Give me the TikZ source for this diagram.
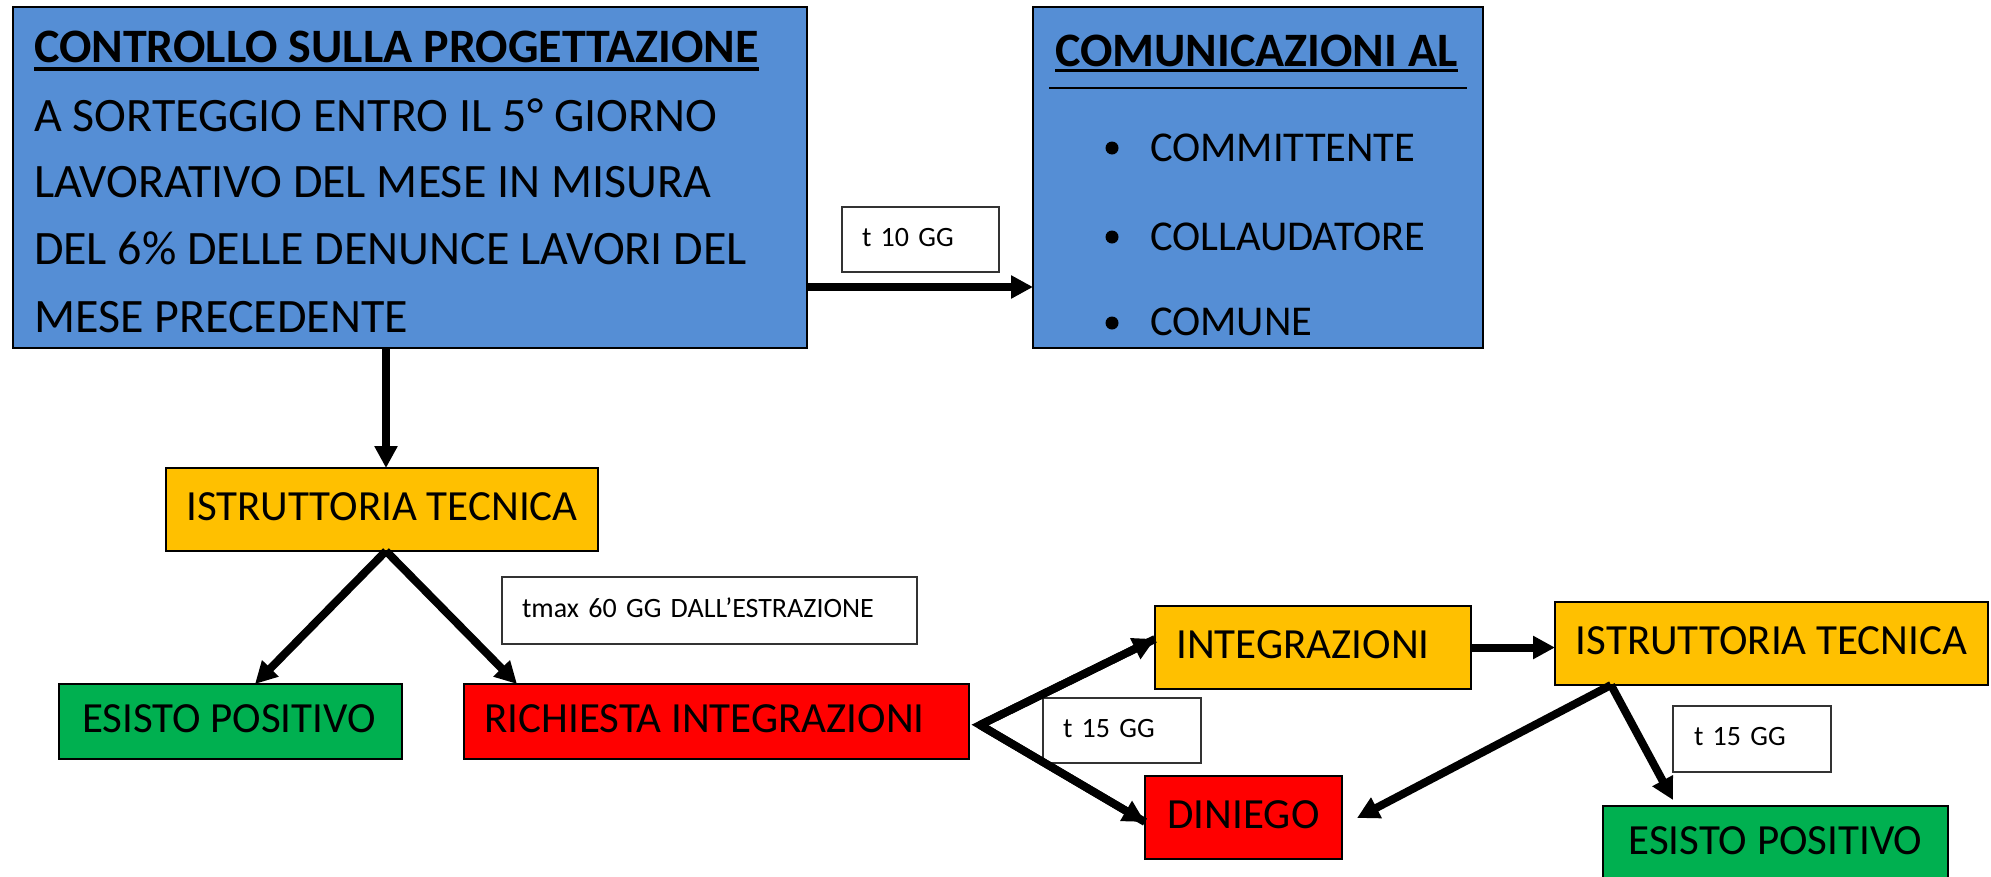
\documentclass[tikz,border=0pt]{standalone}
\usepackage{fontspec}
\setmainfont{Carlito}
\usetikzlibrary{arrows.meta,calc}
\definecolor{cblue}{RGB}{85,142,213}
\definecolor{corange}{RGB}{255,192,0}
\definecolor{cgreen}{RGB}{0,176,80}
\definecolor{cred}{RGB}{255,0,0}
\begin{document}
\begin{tikzpicture}[x=1pt,y=-1pt,
 every node/.style={inner sep=0pt, outer sep=0pt},
 box/.style={draw=black, line width=2pt, anchor=north west, text height=27pt, text depth=6pt, font=\fontsize{43}{51}\selectfont},
 bigbox/.style={draw=black, line width=2.5pt, fill=cblue, anchor=north west},
 tag/.style={draw=black!80, line width=1.5pt, fill=white, anchor=north west, align=left, inner xsep=20pt, text height=18pt, text depth=5pt, font=\fontsize{28}{33}\selectfont},
 txtline/.style={anchor=base west, font=\fontsize{48}{57}\selectfont},
 item/.style={anchor=base west, font=\fontsize{42.5}{50}\selectfont},
 dot/.style={circle, fill=black, minimum size=13pt},
 arr/.style={line width=8pt, -{Triangle[length=22pt,width=22pt]}},
 ul/.style={line width=3.5pt}]
\useasboundingbox (0,0) rectangle (1991,876);
\clip (0,0) rectangle (1991,876);

% top blue boxes
\node[bigbox, minimum width=794pt, minimum height=341pt] (ctrl) at (13,7) {};
\node[bigbox, minimum width=450pt, minimum height=341pt] (comm) at (1033,7) {};

\node[txtline, font=\fontsize{48}{57}\selectfont\bfseries] (ctrlT) at (34,62) {CONTROLLO SULLA PROGETTAZIONE};
\draw[ul] ($(ctrlT.base west)+(0,7)$) -- ($(ctrlT.base east)+(0,7)$);
\node[txtline] (ctrlA) at (34,131) {A SORTEGGIO ENTRO IL 5° GIORNO};
\node[txtline] (ctrlB) at (34,197) {LAVORATIVO DEL MESE IN MISURA};
\node[txtline] (ctrlC) at (34,264) {DEL 6\% DELLE DENUNCE LAVORI DEL};
\node[txtline] (ctrlD) at (34,332) {MESE PRECEDENTE};

\node[txtline, font=\fontsize{48}{56}\selectfont\bfseries] (commT) at (1055,66) {COMUNICAZIONI AL};
\draw[ul] ($(commT.base west)+(0,4.5)$) -- ($(commT.base east)+(0,4.5)$);
\draw[line width=2pt] ($(comm.north west)+(16,81)$) -- ($(comm.north east)+(-16,81)$);
\node[dot] (d1) at (1112,148) {};
\node[dot] (d2) at (1112,237) {};
\node[dot] (d3) at (1112,323) {};
\node[item] (i1) at (1150,161) {COMMITTENTE};
\node[item] (i2) at (1150,250) {COLLAUDATORE};
\node[item] (i3) at (1150,335) {COMUNE};

% tags
\node[tag, text width=117pt, minimum height=65pt] (t10) at (842,207) {t 10 GG};
\node[tag, text width=375pt, minimum height=67pt] (tmax) at (502,577) {tmax 60 GG DALL’ESTRAZIONE};
\node[tag, text width=118pt, minimum height=65pt] (t15a) at (1043,698) {t 15 GG};
\node[tag, text width=116pt, inner xsep=21pt, minimum height=66pt] (t15b) at (1673,706) {t 15 GG};

% process boxes
\node[box, fill=corange, minimum width=432pt, minimum height=83pt] (istr1) at (166,468) {ISTRUTTORIA TECNICA};
\node[box, fill=cgreen, minimum width=343pt, minimum height=75pt] (esito1) at (59,684) {ESISTO POSITIVO\hspace*{3pt}};
\node[box, fill=cred, minimum width=505pt, minimum height=75pt] (rich) at (464,684) {RICHIESTA INTEGRAZIONI\hspace*{24pt}};
\node[box, fill=corange, minimum width=316pt, minimum height=83pt] (integ) at (1155,606) {INTEGRAZIONI\hspace*{20pt}};
\node[box, fill=cred, minimum width=197pt, minimum height=83pt] (din) at (1145,776) {DINIEGO};
\node[box, fill=corange, minimum width=433pt, minimum height=83pt] (istr2) at (1555,602) {ISTRUTTORIA TECNICA};
\node[box, fill=cgreen, minimum width=345pt, minimum height=76pt] (esito2) at (1603,806) {ESISTO POSITIVO};

\coordinate (br) at (980,725);

% connectors
\draw[arr] ($(ctrl.north east)+(0,280)$) -- ($(comm.north west)+(0,280)$);
\draw[arr] ($(istr1.north |- ctrl.south)+(4,0)$) -- ($(istr1.north)+(4,0)$);
\draw[arr] ($(istr1.south)+(4,0)$) -- ($(esito1.north west)+(196,0)$);
\draw[arr] ($(istr1.south)+(4,0)$) -- ($(rich.north west)+(53,0)$);
\draw[line width=8pt, line join=miter] ($(integ.west)+(0,-8.5)$) -- (br) -- ($(din.west)+(0,4.5)$);
\draw[arr] (br) -- ($(integ.west)+(0,-8.5)$);
\draw[arr] (br) -- ($(din.west)+(0,4.5)$);
\draw[arr] (integ.east) -- (istr2.west |- integ.east);
\draw[arr] ($(istr2.south west)+(56,0)$) -- ($(din.east)+(15,0.5)$);
\draw[arr] ($(istr2.south west)+(56,0)$) -- ($(esito2.north west)+(70,-6)$);
\end{tikzpicture}
\end{document}
